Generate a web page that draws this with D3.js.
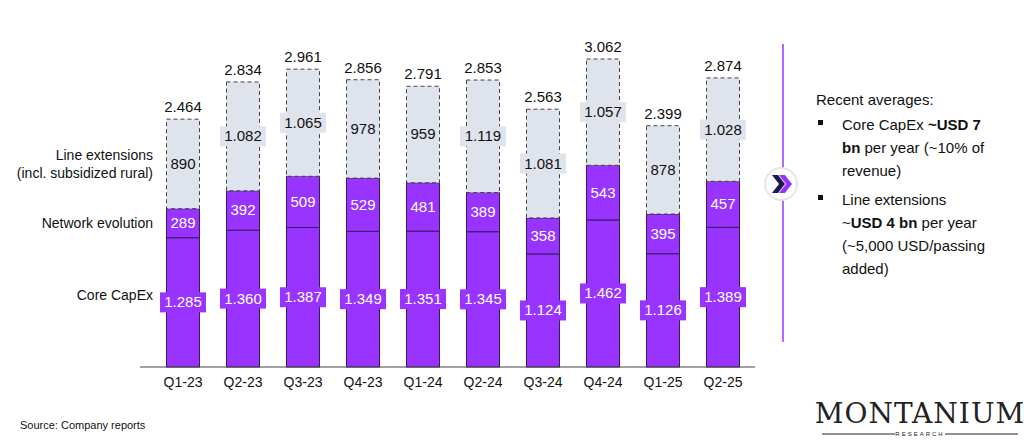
<!DOCTYPE html>
<html><head><meta charset="utf-8">
<script src="https://cdn.jsdelivr.net/npm/d3@7"></script>
<style>body{margin:0;background:#fff;font-family:Arial,"Liberation Sans",sans-serif}</style>
</head><body><svg id="c" width="1024" height="442"></svg>
<script>
const quarters = ['Q1-23','Q2-23','Q3-23','Q4-23','Q1-24','Q2-24','Q3-24','Q4-24','Q1-25','Q2-25'];
const coreCapex = [1285,1360,1387,1349,1351,1345,1124,1462,1126,1389];
const networkEvo = [289,392,509,529,481,389,358,543,395,457];
const lineExt = [890,1082,1065,978,959,1119,1081,1057,878,1028];
const totals = ['2.464','2.834','2.961','2.856','2.791','2.853','2.563','3.062','2.399','2.874'];
const fmt = v => v >= 1000 ? d3.format(',')(v).replace(',', '.') : String(v);

const svg = d3.select('#c');
const x = d3.scaleBand().domain(quarters).range([153, 753]).paddingInner(0.45).paddingOuter(0.225);
const y = d3.scaleLinear().domain([0, 3062]).range([367, 59]);
const bw = x.bandwidth();

// stacked segments
const stack = quarters.map((q, i) => {
  const a = coreCapex[i], b = a + networkEvo[i], c = b + lineExt[i];
  return {q, i, segs: [
    {y0: 0, y1: a, v: coreCapex[i], fill: '#9933ff', txt: '#fff', box: '#9933ff', dash: null},
    {y0: a, y1: b, v: networkEvo[i], fill: '#9933ff', txt: '#fff', box: '#9933ff', dash: null},
    {y0: b, y1: c, v: lineExt[i], fill: '#dee3ec', txt: '#111', box: '#dee3ec', dash: '4,3'}
  ]};
});

const g = svg.selectAll('g.bar').data(stack).enter().append('g').attr('class', 'bar');
g.selectAll('rect').data(d => d.segs.map(s => ({...s, q: d.q}))).enter().append('rect')
  .attr('x', s => x(s.q)).attr('width', bw)
  .attr('y', s => y(s.y1)).attr('height', s => y(s.y0) - y(s.y1))
  .attr('fill', s => s.fill)
  .attr('stroke', s => s.dash ? '#444' : '#3a1a5c')
  .attr('stroke-width', 1)
  .attr('stroke-dasharray', s => s.dash);

// labels
g.each(function(d) {
  const gg = d3.select(this);
  d.segs.forEach(s => {
    const cx = x(d.q) + bw / 2, cy = (y(s.y0) + y(s.y1)) / 2;
    const t = fmt(s.v);
    const w = t.length * 8 + 6;
    gg.append('rect').attr('x', cx - w / 2).attr('y', cy - 10).attr('width', w).attr('height', 20).attr('fill', s.box);
    gg.append('text').attr('x', cx).attr('y', cy + 5).attr('text-anchor', 'middle')
      .attr('font-size', 15).attr('fill', s.txt).text(t);
  });
  gg.append('text').attr('x', x(d.q) + bw / 2).attr('y', y(coreCapex[d.i] + networkEvo[d.i] + lineExt[d.i]) - 7)
    .attr('text-anchor', 'middle').attr('font-size', 15).attr('fill', '#111').text(totals[d.i]);
});

// axis
const ax = svg.append('g').attr('transform', 'translate(0,367)')
  .call(d3.axisBottom(x).tickSize(0).tickPadding(10));
ax.select('.domain').attr('stroke', '#444').attr('d', 'M140,0H755');
ax.selectAll('text').attr('font-size', 14).attr('fill', '#111').attr('font-family', 'Arial, Liberation Sans, sans-serif');

// series labels at left
const left = [['Line extensions', 160], ['(incl. subsidized rural)', 178], ['Network evolution', 228], ['Core CapEx', 300]];
svg.selectAll('text.lab').data(left).enter().append('text').attr('class', 'lab')
  .attr('x', 153).attr('y', d => d[1]).attr('text-anchor', 'end').attr('font-size', 14).attr('fill', '#111').text(d => d[0]);

svg.append('text').attr('x', 20).attr('y', 429).attr('font-size', 11).attr('fill', '#111').text('Source: Company reports');

// right panel
svg.append('line').attr('x1', 783).attr('x2', 783).attr('y1', 44).attr('y2', 342).attr('stroke', '#9933ff').attr('stroke-width', 1.5);
svg.append('circle').attr('cx', 781).attr('cy', 184).attr('r', 16).attr('fill', '#fff').attr('stroke', '#e6e6e6').attr('stroke-width', 2);
svg.append('path').attr('d', 'M772,175 L778,175 L785,184 L778,193 L772,193 L779,184Z').attr('fill', '#1e1b4b');
svg.append('path').attr('d', 'M779,175 L785,175 L792,184 L785,193 L779,193 L786,184Z').attr('fill', '#9933ff');

const tx = svg.append('g').attr('font-size', 15).attr('fill', '#111');
tx.append('text').attr('x', 816).attr('y', 105).text('Recent averages:');
const lines = [
  [842, 130, [['Core CapEx ', 0], ['~USD 7', 1]]],
  [842, 153, [['bn', 1], [' per year (~10% of', 0]]],
  [842, 176, [['revenue)', 0]]],
  [842, 205, [['Line extensions', 0]]],
  [842, 228, [['~', 0], ['USD 4 bn', 1], [' per year', 0]]],
  [842, 251, [['(~5,000 USD/passing', 0]]],
  [842, 274, [['added)', 0]]]
];
lines.forEach(([lx, ly, parts]) => {
  const t = tx.append('text').attr('x', lx).attr('y', ly);
  parts.forEach(p => t.append('tspan').attr('font-weight', p[1] ? 'bold' : null).text(p[0]));
});
[125, 200].forEach(by => tx.append('rect').attr('x', 818).attr('y', by - 5).attr('width', 5).attr('height', 5).attr('fill', '#111'));

// logo
svg.append('text').attr('x', 920).attr('y', 423).attr('text-anchor', 'middle').attr('font-family', 'DejaVu Serif, Liberation Serif, serif')
  .attr('font-size', 28).attr('fill', '#222').attr('letter-spacing', 1).text('MONTANIUM');
svg.append('text').attr('x', 920).attr('y', 436).attr('text-anchor', 'middle').attr('font-size', 6).attr('letter-spacing', 2).attr('fill', '#222').text('RESEARCH');
svg.append('line').attr('x1', 822).attr('x2', 895).attr('y1', 434).attr('y2', 434).attr('stroke', '#222');
svg.append('line').attr('x1', 945).attr('x2', 1018).attr('y1', 434).attr('y2', 434).attr('stroke', '#222');
</script></body></html>
